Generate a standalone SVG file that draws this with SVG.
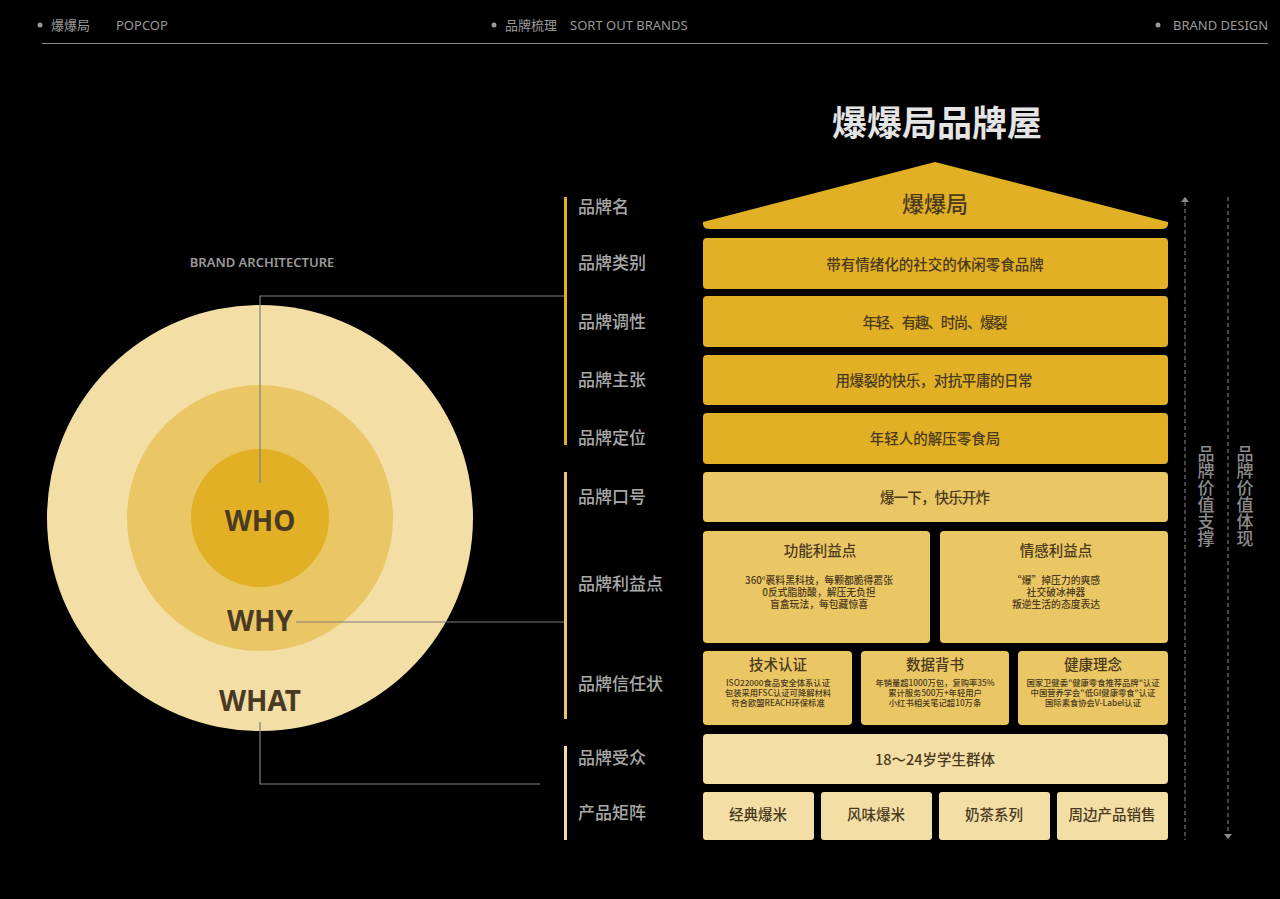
<svg xmlns="http://www.w3.org/2000/svg" width="1280" height="899" viewBox="0 0 1280 899">
<style>
.hd{font-family:"Noto Sans","Noto Sans CJK SC",sans-serif;font-size:13px;fill:#9a9a9a}
.lbl{font-family:"Noto Sans CJK SC",sans-serif;font-size:17px;font-weight:500;fill:#a9a9a9}
.row{font-family:"Noto Sans CJK SC",sans-serif;font-size:14.5px;font-weight:500;fill:#4a391d;text-anchor:middle}
.t1{font-family:"Noto Sans CJK SC",sans-serif;font-size:14.5px;font-weight:500;fill:#4a391d;text-anchor:middle}
.s1{font-family:"Noto Sans CJK SC",sans-serif;font-size:9.8px;font-weight:500;fill:#4a391d;text-anchor:middle}
.s2{font-family:"Noto Sans CJK SC",sans-serif;font-size:8.3px;font-weight:500;fill:#4a391d;text-anchor:middle}
.vt{font-family:"Noto Sans CJK SC",sans-serif;font-size:17px;font-weight:500;fill:#8c8c8c;writing-mode:vertical-rl;text-anchor:start}
.c1{fill:#e1b024}.c2{fill:#eac764}.c3{fill:#f3dfa6}
.ld{fill:none;stroke:#7d7d7d;stroke-width:1.2}
.ds{fill:none;stroke:#8c8c8c;stroke-width:1;stroke-dasharray:4 3}
.big{font-family:"Noto Sans","Open Sans",sans-serif;font-weight:700;fill:#4a3a24;text-anchor:middle}
</style>
<rect width="1280" height="899" fill="#000"/>
<g id="header">
<circle cx="40" cy="25" r="2.5" fill="#9a9a9a"/>
<text class="hd" x="51" y="30" font-family="Noto Sans CJK SC">爆爆局</text>
<text class="hd" x="116" y="30">POPCOP</text>
<circle cx="494" cy="25" r="2.5" fill="#9a9a9a"/>
<text class="hd" x="505" y="30">品牌梳理</text>
<text class="hd" x="570" y="30">SORT OUT BRANDS</text>
<circle cx="1158" cy="25" r="2.5" fill="#9a9a9a"/>
<text class="hd" x="1173" y="30">BRAND DESIGN</text>
<line x1="42" y1="43.5" x2="1268" y2="43.5" stroke="#8a8a8a" stroke-width="1"/>
</g>
<text x="937" y="136" font-family="Noto Sans CJK SC,sans-serif" font-size="35" font-weight="700" fill="#e4e4e4" text-anchor="middle">爆爆局品牌屋</text>
<g id="architecture">
<text x="262" y="267" font-family="Noto Sans,Open Sans,sans-serif" font-size="13" font-weight="600" fill="#9a9a9a" text-anchor="middle">BRAND ARCHITECTURE</text>
<circle class="c3" cx="260" cy="518" r="213"/>
<circle class="c2" cx="260" cy="518" r="133"/>
<circle class="c1" cx="260" cy="518" r="69"/>
<text class="big" x="260" y="531" font-size="28">WHO</text>
<text class="big" x="260" y="631" font-size="28">WHY</text>
<text class="big" x="260" y="711" font-size="28">WHAT</text>
</g>
<g id="connectors">
<polyline class="ld" points="260,483 260,296 564,296"/>
<line class="ld" x1="296" y1="622" x2="564" y2="622"/>
<polyline class="ld" points="260,722 260,784 540,784"/>
<line class="ds" x1="1185" y1="202" x2="1185" y2="840"/>
<path d="M1181,202 L1185,197 L1189,202 Z" fill="#8c8c8c"/>
<line class="ds" x1="1228" y1="197" x2="1228" y2="834"/>
<path d="M1224,834 L1228,839 L1232,834 Z" fill="#8c8c8c"/>
</g>
<g id="bars">
<rect class="c1" x="564" y="197" width="3" height="248"/>
<rect class="c2" x="564" y="472" width="3" height="247"/>
<rect class="c3" x="564" y="746" width="3" height="94"/>
</g>
<g id="labels">
<text class="lbl" x="578" y="213">品牌名</text>
<text class="lbl" x="578" y="269">品牌类别</text>
<text class="lbl" x="578" y="328">品牌调性</text>
<text class="lbl" x="578" y="386">品牌主张</text>
<text class="lbl" x="578" y="444">品牌定位</text>
<text class="lbl" x="578" y="503">品牌口号</text>
<text class="lbl" x="578" y="590">品牌利益点</text>
<text class="lbl" x="578" y="690">品牌信任状</text>
<text class="lbl" x="578" y="764">品牌受众</text>
<text class="lbl" x="578" y="819">产品矩阵</text>
</g>
<g id="roof">
<path class="c1" d="M703,222 L935,162 L1168,222 Q1169,229 1161,229 L710,229 Q702,229 703,222 Z"/>
<text x="935" y="212" font-family="Noto Sans CJK SC,sans-serif" font-size="22" font-weight="500" fill="#4a391d" text-anchor="middle">爆爆局</text>
</g>
<g id="category"><rect class="c1" x="703" y="238" width="465" height="51" rx="4"/><text class="row" x="935" y="270">带有情绪化的社交的休闲零食品牌</text></g>
<g id="tone"><rect class="c1" x="703" y="296" width="465" height="51" rx="4"/><text class="row" x="935" y="328" textLength="145" lengthAdjust="spacing">年轻、有趣、时尚、爆裂</text></g>
<g id="claim"><rect class="c1" x="703" y="355" width="465" height="50" rx="4"/><text class="row" x="934" y="386" textLength="197" lengthAdjust="spacing">用爆裂的快乐，对抗平庸的日常</text></g>
<g id="position"><rect class="c1" x="703" y="413" width="465" height="51" rx="4"/><text class="row" x="935" y="444">年轻人的解压零食局</text></g>
<g id="slogan"><rect class="c2" x="703" y="472" width="465" height="50" rx="4"/><text class="row" x="935" y="503" textLength="110" lengthAdjust="spacing">爆一下，快乐开炸</text></g>
<g id="benefit-func"><rect class="c2" x="703" y="531" width="227" height="112" rx="4"/>
<text class="t1" x="820" y="556">功能利益点</text>
<text class="s1" x="819" y="584">360°裹料黑科技，每颗都脆得嚣张</text>
<text class="s1" x="819" y="596.2">0反式脂肪酸，解压无负担</text>
<text class="s1" x="819" y="608.4">盲盒玩法，每包藏惊喜</text></g>
<g id="benefit-emo"><rect class="c2" x="940" y="531" width="228" height="112" rx="4"/>
<text class="t1" x="1056" y="556">情感利益点</text>
<text class="s1" x="1056" y="584">“爆”掉压力的爽感</text>
<text class="s1" x="1056" y="596.2">社交破冰神器</text>
<text class="s1" x="1056" y="608.4">叛逆生活的态度表达</text></g>
<g id="trust-tech"><rect class="c2" x="703" y="651" width="149" height="74" rx="4"/>
<text class="t1" x="778" y="670">技术认证</text>
<text class="s2" x="778" y="686">ISO22000食品安全体系认证</text>
<text class="s2" x="778" y="696">包装采用FSC认证可降解材料</text>
<text class="s2" x="778" y="706">符合欧盟REACH环保标准</text></g>
<g id="trust-data"><rect class="c2" x="861" y="651" width="148" height="74" rx="4"/>
<text class="t1" x="935" y="670">数据背书</text>
<text class="s2" x="935" y="686">年销量超1000万包，复购率35%</text>
<text class="s2" x="935" y="696">累计服务500万+年轻用户</text>
<text class="s2" x="935" y="706">小红书相关笔记超10万条</text></g>
<g id="trust-health"><rect class="c2" x="1018" y="651" width="150" height="74" rx="4"/>
<text class="t1" x="1093" y="670">健康理念</text>
<text class="s2" x="1093" y="686">国家卫健委"健康零食推荐品牌"认证</text>
<text class="s2" x="1093" y="696">中国营养学会"低GI健康零食"认证</text>
<text class="s2" x="1093" y="706">国际素食协会V-Label认证</text></g>
<g id="audience"><rect class="c3" x="703" y="734" width="465" height="50" rx="4"/><text class="row" x="935" y="765">18～24岁学生群体</text></g>
<g id="p1"><rect class="c3" x="703" y="792" width="111" height="48" rx="3"/><text class="row" x="758" y="820">经典爆米</text></g>
<g id="p2"><rect class="c3" x="821" y="792" width="111" height="48" rx="3"/><text class="row" x="876" y="820">风味爆米</text></g>
<g id="p3"><rect class="c3" x="939" y="792" width="111" height="48" rx="3"/><text class="row" x="994" y="820">奶茶系列</text></g>
<g id="p4"><rect class="c3" x="1057" y="792" width="111" height="48" rx="3"/><text class="row" x="1112" y="820">周边产品销售</text></g>
<g id="vertical-labels">
<text class="vt" x="1206" y="445">品牌价值支撑</text>
<text class="vt" x="1245" y="445">品牌价值体现</text>
</g>
</svg>
